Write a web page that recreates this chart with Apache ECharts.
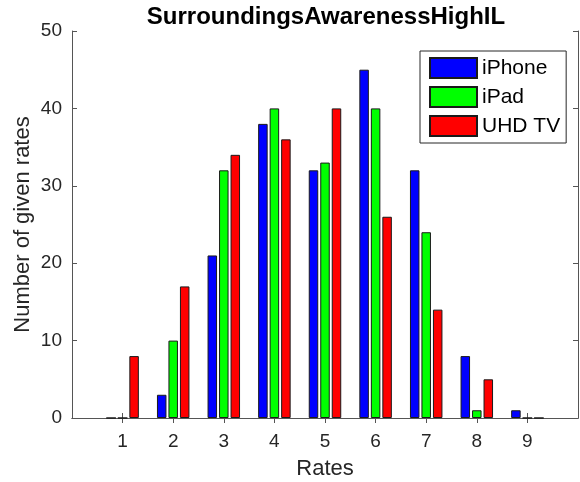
<!DOCTYPE html>
<html>
<head>
<meta charset="utf-8">
<script src="https://cdn.jsdelivr.net/npm/echarts@6/dist/echarts.min.js"></script>
<style>
  html, body { margin: 0; padding: 0; background: #fff; }
  #chart { width: 580px; height: 482px; }
</style>
</head>
<body>
<div id="chart"></div>
<script>
// Rate categories and counts per device
const rates = ['1', '2', '3', '4', '5', '6', '7', '8', '9'];
const iphone = [0, 3, 21, 38, 32, 45, 32, 8, 1];
const ipad = [0, 10, 32, 40, 33, 40, 24, 1, 0];
const uhdtv = [8, 17, 34, 36, 40, 26, 14, 5, 0];
const yTicks = [0, 10, 20, 30, 40, 50];

// Axis runs from 0 to 10 so rates sit one unit in from each edge
const axisCats = ['0'].concat(rates, ['10']);
const pad = arr => [null].concat(arr, [null]);
const innerTick = i => i > 0 && i < axisCats.length - 1;

const FONT = 'Liberation Sans, Arial, Helvetica, sans-serif';
const AXIS_COLOR = '#262626';
const LINE_COLOR = '#555555';

const chart = echarts.init(document.getElementById('chart'), null, { renderer: 'canvas' });

const barStyle = color => ({
  color: color,
  borderColor: '#1a1a1a',
  borderWidth: 1
});

const xBase = {
  type: 'category',
  data: axisCats,
  boundaryGap: false,
  axisLine: { lineStyle: { color: LINE_COLOR, width: 1 } },
  axisTick: { inside: true, length: 5, interval: innerTick, lineStyle: { color: LINE_COLOR } },
  splitLine: { show: false }
};

const yBase = {
  type: 'value',
  min: yTicks[0],
  max: yTicks[yTicks.length - 1],
  interval: 10,
  axisLine: { show: true, lineStyle: { color: LINE_COLOR, width: 1 } },
  axisTick: { show: true, inside: true, length: 5, lineStyle: { color: LINE_COLOR } },
  splitLine: { show: false }
};

chart.setOption({
  animation: false,
  backgroundColor: '#ffffff',
  title: {
    text: 'SurroundingsAwarenessHighIL',
    left: 321,
    top: 0,
    textAlign: 'center',
    textStyle: { fontFamily: FONT, fontSize: 24, fontWeight: 'bold', color: '#000' }
  },
  legend: {
    orient: 'vertical',
    left: 420,
    top: 51,
    padding: [6, 6, 6, 9],
    itemWidth: 47,
    itemHeight: 20,
    itemGap: 7,
    borderColor: AXIS_COLOR,
    borderWidth: 1,
    backgroundColor: '#fff',
    icon: 'rect',
    textStyle: { fontFamily: FONT, fontSize: 21, color: '#000' },
    data: ['iPhone', 'iPad', 'UHD TV']
  },
  // Fixed plot box; labels and names are placed outside it without shrinking it
  grid: { left: 72, top: 31, right: 2, bottom: 64, containLabel: false, outerBoundsMode: 'none' },
  xAxis: [
    Object.assign({}, xBase, {
      position: 'bottom',
      name: 'Rates',
      nameLocation: 'middle',
      nameGap: 40,
      nameMoveOverlap: false,
      nameTextStyle: { fontFamily: FONT, fontSize: 22, color: AXIS_COLOR },
      axisLabel: {
        margin: 14,
        fontFamily: FONT,
        fontSize: 19,
        color: AXIS_COLOR,
        interval: 0,
        formatter: v => (v === '0' || v === '10') ? '' : v
      }
    }),
    Object.assign({}, xBase, {
      position: 'top',
      axisLabel: { show: false }
    })
  ],
  yAxis: [
    Object.assign({}, yBase, {
      position: 'left',
      name: 'Number of given rates',
      nameLocation: 'middle',
      nameGap: 38,
      nameMoveOverlap: false,
      nameTextStyle: { fontFamily: FONT, fontSize: 22, color: AXIS_COLOR },
      axisLabel: { margin: 10, fontFamily: FONT, fontSize: 19, color: AXIS_COLOR }
    }),
    Object.assign({}, yBase, {
      position: 'right',
      axisLabel: { show: false }
    })
  ],
  series: [
    { name: 'iPhone', type: 'bar', data: pad(iphone), barWidth: 9.5, barGap: '21%', itemStyle: barStyle('#0000ff') },
    { name: 'iPad', type: 'bar', data: pad(ipad), barWidth: 9.5, barGap: '21%', itemStyle: barStyle('#00ff00') },
    { name: 'UHD TV', type: 'bar', data: pad(uhdtv), barWidth: 9.5, barGap: '21%', itemStyle: barStyle('#ff0000') }
  ]
});
</script>
</body>
</html>
